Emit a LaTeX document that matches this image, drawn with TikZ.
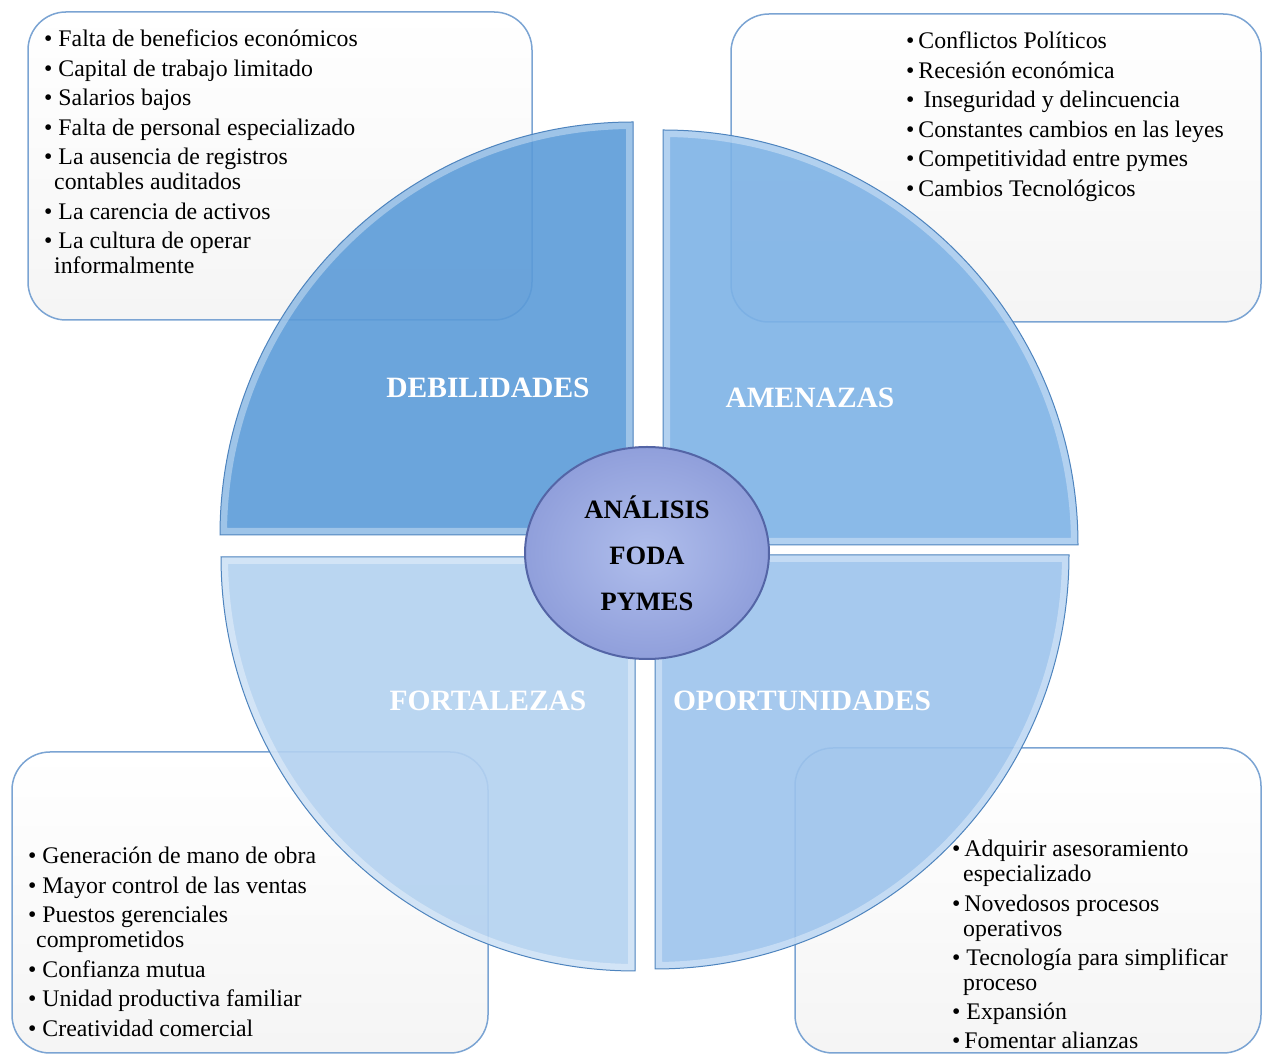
\documentclass[tikz,border=0pt]{standalone}
\usepackage{fontspec}
\setmainfont{Liberation Serif}
\usetikzlibrary{shapes.geometric,positioning}

\definecolor{debcol}{HTML}{5B9BD8}
\definecolor{amecol}{HTML}{7DB2E6}
\definecolor{fortcol}{HTML}{B3D1F0}
\definecolor{opocol}{HTML}{9CC3EC}
\definecolor{edgecol}{HTML}{4E84BE}
\definecolor{boxline}{HTML}{7BA4D3}
\definecolor{ellin}{HTML}{B0BEEC}
\definecolor{ellout}{HTML}{909FDB}
\definecolor{ellline}{HTML}{5465A6}

% quarter of the circle: corner, start angle, radius, end angle
\newcommand{\quadpath}[4]{(#1) -- ++(#2:#3) arc[start angle=#2, end angle=#4, radius=#3] -- cycle}

\begin{document}
\begin{tikzpicture}[x=1pt,y=1pt]
\path [use as bounding box] (0,0) rectangle (1262,1055);
\tikzset{
  listbox/.style={draw=boxline, line width=1.5pt, rounded corners=38pt, top color=white, bottom color=black!4},
  listtext/.style={anchor=north west, inner sep=0pt, align=left, font=\fontsize{23.8}{25}\selectfont},
  headtext/.style={text=white, inner sep=0pt, font=\bfseries\fontsize{29.5}{30}\selectfont},
  sectorline/.style={draw=edgecol, line width=1pt}
}
% boxes under the circle
\draw[listbox] (28,735) rectangle (532,1043);
\draw[listbox] (731,733) rectangle (1261,1041);
\draw[listbox] (12,2) rectangle (488,303);
\draw[listbox] (795,2) rectangle (1261,307);

\coordinate (deb) at (633,520);
\coordinate (ame) at (663,510);
\coordinate (fort) at (635,498);
\coordinate (opo) at (655,500);

\foreach \c/\a/\b/\r/\col in {deb/180/90/413/debcol, ame/90/0/415/amecol, fort/180/270/414/fortcol, opo/0/-90/414/opocol}{
  \begin{scope}
    \clip \quadpath{\c}{\a}{\r}{\b};
    \fill[\col, fill opacity=.9] \quadpath{\c}{\a}{\r}{\b};
    \draw[white, line width=14pt, opacity=.35] \quadpath{\c}{\a}{\r}{\b};
  \end{scope}
  \draw[sectorline] \quadpath{\c}{\a}{\r}{\b};
}

\node[headtext] (debhead) at (488,667) {DEBILIDADES};
\node[headtext] (amehead) at (810,657) {AMENAZAS};
\node[headtext] (forthead) at (488,354) {FORTALEZAS};
\node[headtext] (opohead) at (802,354) {OPORTUNIDADES};

\node[ellipse, minimum width=244pt, minimum height=212pt, draw=ellline, line width=2pt,
  inner color=ellin, outer color=ellout, align=center,
  font=\bfseries\fontsize{26.5}{46}\selectfont] (foda) at (647,502) {ANÁLISIS\\FODA\\PYMES};

\node[listtext] (debtext) at (44,1025) {\textbullet\ Falta de beneficios económicos\\[4.5pt]
\textbullet\ Capital de trabajo limitado\\[4.5pt]
\textbullet\ Salarios bajos\\[4.5pt]
\textbullet\ Falta de personal especializado\\[4.5pt]
\textbullet\ La ausencia de registros\\
\hspace*{10pt}contables auditados\\[4.5pt]
\textbullet\ La carencia de activos\\[4.5pt]
\textbullet\ La cultura de operar\\
\hspace*{10pt}informalmente};

\node[listtext] (ametext) at (906,1023) {\textbullet\,Conflictos Políticos\\[4.5pt]
\textbullet\,Recesión económica\\[4.5pt]
\textbullet\hspace{9pt}Inseguridad y delincuencia\\[4.5pt]
\textbullet\,Constantes cambios en las leyes\\[4.5pt]
\textbullet\,Competitividad entre pymes\\[4.5pt]
\textbullet\,Cambios Tecnológicos};

\node[listtext] (forttext) at (28,208) {\textbullet\ Generación de mano de obra\\[4.5pt]
\textbullet\ Mayor control de las ventas\\[4.5pt]
\textbullet\ Puestos gerenciales\\
\hspace*{8pt}comprometidos\\[4.5pt]
\textbullet\ Confianza mutua\\[4.5pt]
\textbullet\ Unidad productiva familiar\\[4.5pt]
\textbullet\ Creatividad comercial};

\node[listtext] (opotext) at (952,215) {\textbullet\,Adquirir asesoramiento\\
\hspace*{11pt}especializado\\[4.3pt]
\textbullet\,Novedosos procesos\\
\hspace*{11pt}operativos\\[4.3pt]
\textbullet\ Tecnología para simplificar\\
\hspace*{11pt}proceso\\[4.3pt]
\textbullet\ Expansión\\[4.3pt]
\textbullet\,Fomentar alianzas};
\end{tikzpicture}
\end{document}
